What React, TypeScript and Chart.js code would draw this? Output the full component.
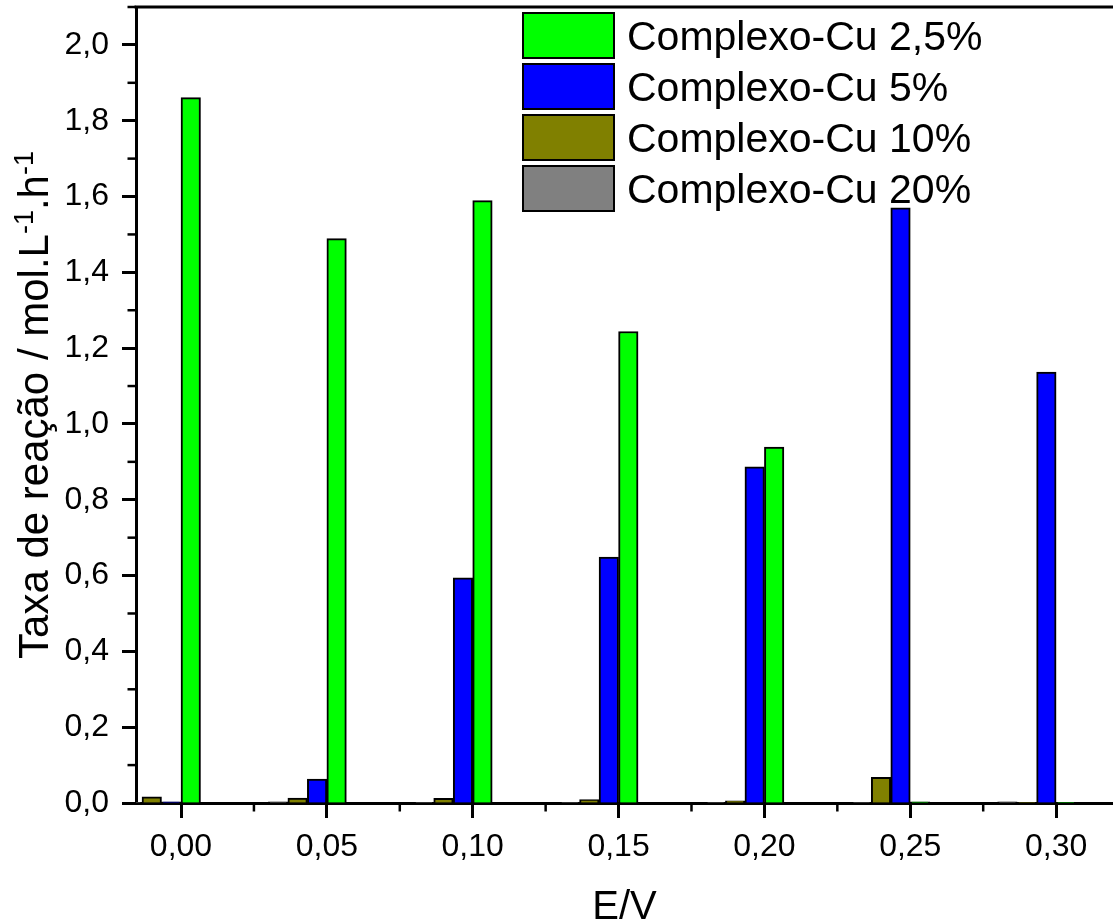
import React, { useEffect, useRef } from 'react';
import { Chart, registerables } from 'chart.js';

Chart.register(...registerables);

// Applied potential (V) and its axis labels
const potentials = [0, 0.05, 0.1, 0.15, 0.2, 0.25, 0.3];
const potentialLabels = ['0,00', '0,05', '0,10', '0,15', '0,20', '0,25', '0,30'];
const potentialMinorTicks = [0.025, 0.075, 0.125, 0.175, 0.225, 0.275];

// Reaction rate (mol.L-1.h-1) for each copper complex loading
const rateCu2_5 = [1.861, 1.489, 1.589, 1.244, 0.939, 0.003, 0.002];
const rateCu5 = [0.003, 0.063, 0.594, 0.649, 0.887, 1.570, 1.137];
const rateCu10 = [0.016, 0.013, 0.012, 0.009, 0.006, 0.068, 0.002];
const rateCu20 = [0.002, 0.003, 0.002, 0.002, 0.002, 0.002, 0.003];

const seriesNames = ['Complexo-Cu 2,5%', 'Complexo-Cu 5%', 'Complexo-Cu 10%', 'Complexo-Cu 20%'];
const seriesColors = ['#00FF00', '#0000FF', '#808000', '#808080'];

const rateTicks = [0, 0.2, 0.4, 0.6, 0.8, 1.0, 1.2, 1.4, 1.6, 1.8, 2.0];
const rateTickLabels = ['0,0', '0,2', '0,4', '0,6', '0,8', '1,0', '1,2', '1,4', '1,6', '1,8', '2,0'];
const rateMinorTicks = [0.1, 0.3, 0.5, 0.7, 0.9, 1.1, 1.3, 1.5, 1.7, 1.9, 2.1];

const xTitle = 'E/V';
const yTitleParts: { text: string; sup: boolean }[] = [
  { text: 'Taxa de reação / mol.L', sup: false },
  { text: '-1', sup: true },
  { text: '.h', sup: false },
  { text: '-1', sup: true },
];

const FONT = '"Liberation Sans", Arial, Helvetica, sans-serif';

const points = (values: number[]) => potentials.map((x, i) => ({ x, y: values[i] }));

// Axis decorations: top frame, minor ticks, axis titles and the legend
const decorations = {
  id: 'decorations',
  afterDraw(chart: any) {
    const { ctx, chartArea: a, scales } = chart;
    const x = scales.x;
    const y = scales.y;
    ctx.save();
    ctx.strokeStyle = '#000';
    ctx.lineCap = 'butt';

    ctx.lineWidth = 3;
    ctx.beginPath();
    ctx.moveTo(a.left - 1.5, a.top);
    ctx.lineTo(chart.width, a.top);
    ctx.stroke();

    ctx.lineWidth = 2.5;
    for (const v of rateMinorTicks) {
      const py = y.getPixelForValue(v);
      ctx.beginPath();
      ctx.moveTo(a.left - 8.5, py);
      ctx.lineTo(a.left, py);
      ctx.stroke();
    }
    for (const v of potentialMinorTicks) {
      const px = x.getPixelForValue(v);
      ctx.beginPath();
      ctx.moveTo(px, a.bottom);
      ctx.lineTo(px, a.bottom + 8.5);
      ctx.stroke();
    }

    ctx.fillStyle = '#000';
    ctx.textBaseline = 'alphabetic';

    // x title
    ctx.font = `40px ${FONT}`;
    ctx.textAlign = 'center';
    ctx.fillText(xTitle, (a.left + a.right) / 2, 919);

    // y title with superscripts, rotated
    const mainFont = `42px ${FONT}`;
    const supFont = `27px ${FONT}`;
    ctx.textAlign = 'left';
    let total = 0;
    for (const p of yTitleParts) {
      ctx.font = p.sup ? supFont : mainFont;
      total += ctx.measureText(p.text).width;
    }
    ctx.save();
    ctx.translate(48, (a.top + a.bottom) / 2);
    ctx.rotate(-Math.PI / 2);
    let cx = -total / 2;
    for (const p of yTitleParts) {
      ctx.font = p.sup ? supFont : mainFont;
      ctx.fillText(p.text, cx, p.sup ? -15 : 0);
      cx += ctx.measureText(p.text).width;
    }
    ctx.restore();

    // legend
    const boxX = 523;
    const boxW = 91;
    const boxH = 45;
    const rowStep = 51;
    const firstTop = 13;
    ctx.font = `41px ${FONT}`;
    ctx.textAlign = 'left';
    seriesNames.forEach((name, i) => {
      const top = firstTop + i * rowStep;
      ctx.fillStyle = seriesColors[i];
      ctx.fillRect(boxX, top, boxW, boxH);
      ctx.lineWidth = 2;
      ctx.strokeStyle = '#000';
      ctx.strokeRect(boxX, top, boxW, boxH);
      ctx.fillStyle = '#000';
      ctx.fillText(name, boxX + boxW + 13, top + boxH / 2 + 14.5);
    });

    ctx.restore();
  },
};

export default function App() {
  const canvasRef = useRef<HTMLCanvasElement | null>(null);

  useEffect(() => {
    const canvas = canvasRef.current;
    if (!canvas) return;

    const barStyle = (color: string) => ({
      backgroundColor: color,
      borderColor: '#000',
      borderWidth: 2,
    });

    const chart = new Chart(canvas, {
      type: 'bar',
      data: {
        datasets: [
          { label: seriesNames[3], data: points(rateCu20), ...barStyle(seriesColors[3]) },
          { label: seriesNames[2], data: points(rateCu10), ...barStyle(seriesColors[2]) },
          { label: seriesNames[1], data: points(rateCu5), ...barStyle(seriesColors[1]) },
          { label: seriesNames[0], data: points(rateCu2_5), ...barStyle(seriesColors[0]) },
          // two empty slots keep each cluster to the left of its tick
          { label: '', data: [] },
          { label: '', data: [] },
        ],
      } as any,
      options: {
        animation: false,
        responsive: false,
        maintainAspectRatio: false,
        layout: { padding: { top: 7, left: 0, right: 0, bottom: 0 } },
        datasets: { bar: { barThickness: 19.5 } } as any,
        plugins: {
          legend: { display: false },
          tooltip: { enabled: false },
          title: { display: false },
        },
        scales: {
          x: {
            type: 'linear',
            min: -0.01543,
            max: 0.3195,
            offset: false,
            afterBuildTicks: (s: any) => {
              s.ticks = potentials.map((v) => ({ value: v }));
            },
            afterFit: (s: any) => {
              s.height = 118;
              s.paddingLeft = 0;
              s.paddingRight = 0;
              s.paddingTop = 0;
              s.paddingBottom = 0;
            },
            ticks: {
              callback: (_v: any, i: number) => potentialLabels[i],
              font: { family: FONT, size: 32 },
              color: '#000',
              padding: 10,
              maxRotation: 0,
              autoSkip: false,
            },
            grid: {
              display: true,
              offset: false,
              drawOnChartArea: false,
              drawTicks: true,
              tickLength: 15,
              tickWidth: 3,
              tickColor: '#000',
            },
            border: { display: true, width: 3, color: '#000' },
          },
          y: {
            type: 'linear',
            min: 0,
            max: 2.1,
            afterBuildTicks: (s: any) => {
              s.ticks = rateTicks.map((v) => ({ value: v }));
            },
            afterFit: (s: any) => {
              s.width = 136;
              s.paddingLeft = 0;
              s.paddingRight = 0;
              s.paddingTop = 0;
              s.paddingBottom = 0;
            },
            ticks: {
              callback: (_v: any, i: number) => rateTickLabels[i],
              font: { family: FONT, size: 32 },
              color: '#000',
              padding: 13,
              autoSkip: false,
            },
            grid: {
              display: true,
              drawOnChartArea: false,
              drawTicks: true,
              tickLength: 14,
              tickWidth: 3,
              tickColor: '#000',
            },
            border: { display: true, width: 3, color: '#000' },
          },
        },
      } as any,
      plugins: [decorations],
    });

    return () => chart.destroy();
  }, []);

  return (
    <div style={{ position: 'absolute', left: 0, top: 0, width: 1113, height: 921, background: '#fff' }}>
      <canvas ref={canvasRef} width={1113} height={921} style={{ display: 'block' }} />
    </div>
  );
}
